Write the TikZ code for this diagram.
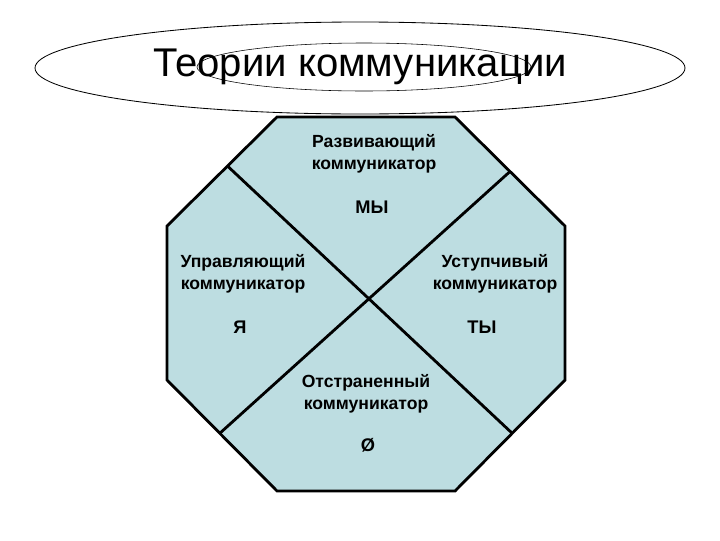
\documentclass[tikz,border=0pt]{standalone}
\usepackage{fontspec}
\setsansfont{Liberation Sans}
\usetikzlibrary{calc}
\definecolor{octfill}{RGB}{189,221,225}

\begin{document}
\begin{tikzpicture}[x=0.025cm, y=-0.025cm,
    role/.style={font=\sffamily\bfseries\fontsize{12.5}{15.3}\selectfont, align=center, inner sep=0pt},
    pronoun/.style={font=\sffamily\bfseries\fontsize{13}{15}\selectfont, inner sep=0pt},
    divider/.style={line width=2pt}]
    \useasboundingbox (0,0) rectangle (720,540);

    % Title ellipse
    \draw[line width=0.6pt] (360,68) ellipse [x radius=325, y radius=46];
    \draw[line width=0.4pt] (364,67) ellipse [x radius=167, y radius=24];
    \node[font=\sffamily\fontsize{28.5}{32}\selectfont] (title) at (360,67) {Теории коммуникации};

    % Octagon corners
    \coordinate (o1) at (277,117);
    \coordinate (o2) at (455,117);
    \coordinate (o3) at (565,226);
    \coordinate (o4) at (565,380);
    \coordinate (o5) at (455,491);
    \coordinate (o6) at (277,491);
    \coordinate (o7) at (167,380);
    \coordinate (o8) at (167,226);
    \draw[fill=octfill, line width=2pt, line join=miter]
        (o1) -- (o2) -- (o3) -- (o4) -- (o5) -- (o6) -- (o7) -- (o8) -- cycle;

    % Dividing lines
    \coordinate (ul) at ($(o8)!0.55!(o1)$);
    \coordinate (lr) at ($(o4)!0.48!(o5)$);
    \coordinate (ur) at ($(o2)!0.5!(o3)$);
    \coordinate (ll) at ($(o6)!0.52!(o7)$);
    \draw[divider] (ul) -- (lr);
    \draw[divider] (ur) -- (ll);

    % Communicator types
    \node[role] (dev) at (374,154) {Развивающий\\коммуникатор};
    \node[pronoun] (we) at (372,207) {МЫ};
    \node[role] (ctrl) at (243,274) {Управляющий\\коммуникатор};
    \node[pronoun] (me) at (240,327) {Я};
    \node[role] (yield) at (495,274) {Уступчивый\\коммуникатор};
    \node[pronoun] (you) at (482,327) {ТЫ};
    \node[role] (dist) at (366,394) {Отстраненный\\коммуникатор};
    \node[pronoun] (none) at (368,445) {Ø};
\end{tikzpicture}
\end{document}
